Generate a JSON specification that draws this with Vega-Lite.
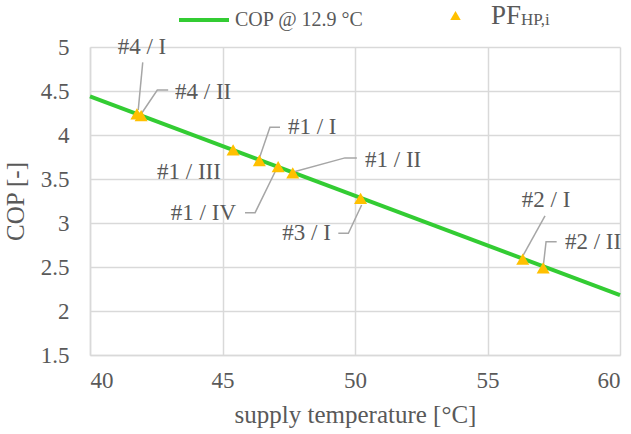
{
  "$schema": "https://vega.github.io/schema/vega-lite/v6.json",
  "width": 530,
  "height": 308,
  "autosize": "none",
  "padding": {"left": 90, "top": 47, "right": 11, "bottom": 79},
  "background": "white",
  "config": {
    "view": {"stroke": null},
    "font": "Liberation Serif",
    "axis": {
      "labelFont": "Liberation Serif",
      "titleFont": "Liberation Serif",
      "labelColor": "#595959",
      "titleColor": "#595959",
      "labelFontSize": 23,
      "titleFontSize": 25,
      "titleFontWeight": "normal",
      "gridColor": "#d9d9d9",
      "gridWidth": 1.5,
      "domainColor": "#d9d9d9",
      "domainWidth": 1.5,
      "ticks": false
    },
    "legend": {
      "labelFont": "Liberation Serif",
      "titleFont": "Liberation Serif",
      "labelColor": "#595959",
      "titleColor": "#595959",
      "padding": 0
    }
  },
  "datasets": {
    "cop": [
      {"temp": 40, "cop": 4.44, "series": "COP @ 12.9 °C"},
      {"temp": 60, "cop": 2.18, "series": "COP @ 12.9 °C"}
    ],
    "pf": [
      {"temp": 41.77, "pf": 4.24, "label": "#4 / I", "series": "PF"},
      {"temp": 41.93, "pf": 4.22, "label": "#4 / II", "series": "PF"},
      {"temp": 45.40, "pf": 3.83, "label": "#1 / III", "series": "PF"},
      {"temp": 46.39, "pf": 3.71, "label": "#1 / I", "series": "PF"},
      {"temp": 47.10, "pf": 3.64, "label": "#1 / IV", "series": "PF"},
      {"temp": 47.65, "pf": 3.57, "label": "#1 / II", "series": "PF"},
      {"temp": 50.21, "pf": 3.28, "label": "#3 / I", "series": "PF"},
      {"temp": 56.33, "pf": 2.59, "label": "#2 / I", "series": "PF"},
      {"temp": 57.10, "pf": 2.49, "label": "#2 / II", "series": "PF"}
    ],
    "labels": [
      {"temp": 41.96, "val": 5.0, "label": "#4 / I", "anchor": "center"},
      {"temp": 43.21, "val": 4.49, "label": "#4 / II", "anchor": "left"},
      {"temp": 47.47, "val": 4.09, "label": "#1 / I", "anchor": "left"},
      {"temp": 44.94, "val": 3.58, "label": "#1 / III", "anchor": "right"},
      {"temp": 45.51, "val": 3.11, "label": "#1 / IV", "anchor": "right"},
      {"temp": 50.38, "val": 3.72, "label": "#1 / II", "anchor": "left"},
      {"temp": 49.09, "val": 2.886, "label": "#3 / I", "anchor": "right"},
      {"temp": 57.21, "val": 3.26, "label": "#2 / I", "anchor": "center"},
      {"temp": 57.92, "val": 2.78, "label": "#2 / II", "anchor": "left"}
    ],
    "leaders": [
      {"id": "#4 / I", "seq": 1, "temp": 41.99, "val": 4.826},
      {"id": "#4 / I", "seq": 2, "temp": 41.82, "val": 4.284},
      {"id": "#4 / II", "seq": 1, "temp": 42.95, "val": 4.511},
      {"id": "#4 / II", "seq": 2, "temp": 42.54, "val": 4.511},
      {"id": "#4 / II", "seq": 3, "temp": 41.95, "val": 4.247},
      {"id": "#1 / I", "seq": 1, "temp": 47.17, "val": 4.087},
      {"id": "#1 / I", "seq": 2, "temp": 46.79, "val": 4.087},
      {"id": "#1 / I", "seq": 3, "temp": 46.39, "val": 3.735},
      {"id": "#1 / IV", "seq": 1, "temp": 45.85, "val": 3.117},
      {"id": "#1 / IV", "seq": 2, "temp": 46.23, "val": 3.117},
      {"id": "#1 / IV", "seq": 3, "temp": 47.05, "val": 3.622},
      {"id": "#1 / II", "seq": 1, "temp": 50.07, "val": 3.74},
      {"id": "#1 / II", "seq": 2, "temp": 49.62, "val": 3.74},
      {"id": "#1 / II", "seq": 3, "temp": 47.67, "val": 3.58},
      {"id": "#3 / I", "seq": 1, "temp": 49.37, "val": 2.883},
      {"id": "#3 / I", "seq": 2, "temp": 49.75, "val": 2.883},
      {"id": "#3 / I", "seq": 3, "temp": 50.25, "val": 3.205},
      {"id": "#2 / I", "seq": 1, "temp": 57.17, "val": 3.08},
      {"id": "#2 / I", "seq": 2, "temp": 56.35, "val": 2.636},
      {"id": "#2 / II", "seq": 1, "temp": 57.61, "val": 2.787},
      {"id": "#2 / II", "seq": 2, "temp": 57.21, "val": 2.787},
      {"id": "#2 / II", "seq": 3, "temp": 57.11, "val": 2.523}
    ]
  },
  "layer": [
    {
      "data": {"name": "cop"},
      "mark": {"type": "line", "strokeWidth": 4},
      "encoding": {
        "x": {
          "field": "temp", "type": "quantitative",
          "scale": {"domain": [40, 60], "nice": false},
          "axis": {"values": [40, 45, 50, 55, 60], "title": "supply temperature [°C]", "labelFont": "Liberation Serif", "titleFont": "Liberation Serif", "labelPadding": 14, "titlePadding": 10}
        },
        "y": {
          "field": "cop", "type": "quantitative",
          "scale": {"domain": [1.5, 5], "nice": false, "zero": false},
          "axis": {"values": [1.5, 2, 2.5, 3, 3.5, 4, 4.5, 5], "format": "~g", "title": "COP [-]", "labelFont": "Liberation Serif", "titleFont": "Liberation Serif", "labelPadding": 21, "titlePadding": 12}
        },
        "stroke": {
          "field": "series", "type": "nominal",
          "scale": {"range": ["#33cc33"]},
          "legend": {
            "title": null,
            "orient": "none",
            "legendX": 87,
            "legendY": -54,
            "symbolType": "stroke",
            "symbolSize": 2500,
            "symbolStrokeWidth": 4,
            "labelFontSize": 20,
            "labelOffset": 4
          }
        }
      }
    },
    {
      "data": {"name": "leaders"},
      "mark": {"type": "line", "stroke": "#a6a6a6", "strokeWidth": 1.5},
      "encoding": {
        "x": {"field": "temp", "type": "quantitative"},
        "y": {"field": "val", "type": "quantitative"},
        "detail": {"field": "id"},
        "order": {"field": "seq"}
      }
    },
    {
      "data": {"name": "pf"},
      "mark": {"type": "point", "shape": "triangle-up", "filled": true, "size": 170, "opacity": 1},
      "encoding": {
        "x": {"field": "temp", "type": "quantitative"},
        "y": {"field": "pf", "type": "quantitative"},
        "fill": {
          "field": "series", "type": "nominal",
          "scale": {"range": ["#ffc000"]},
          "legend": {
            "title": "HP,i",
            "titleOrient": "right",
            "titleFontSize": 17,
            "titleFontWeight": "normal",
            "titlePadding": 0,
            "titleAnchor": "end",
            "orient": "none",
            "legendX": 352,
            "legendY": -45,
            "symbolType": "triangle-up",
            "symbolSize": 110,
            "labelFontSize": 27,
            "labelOffset": 22
          }
        }
      }
    },
    {
      "data": {"name": "labels"},
      "transform": [{"filter": "datum.anchor === 'left'"}],
      "mark": {"type": "text", "align": "left", "baseline": "middle", "fontSize": 23, "color": "#595959", "font": "Liberation Serif"},
      "encoding": {
        "x": {"field": "temp", "type": "quantitative"},
        "y": {"field": "val", "type": "quantitative"},
        "text": {"field": "label"}
      }
    },
    {
      "data": {"name": "labels"},
      "transform": [{"filter": "datum.anchor === 'right'"}],
      "mark": {"type": "text", "align": "right", "baseline": "middle", "fontSize": 23, "color": "#595959", "font": "Liberation Serif"},
      "encoding": {
        "x": {"field": "temp", "type": "quantitative"},
        "y": {"field": "val", "type": "quantitative"},
        "text": {"field": "label"}
      }
    },
    {
      "data": {"name": "labels"},
      "transform": [{"filter": "datum.anchor === 'center'"}],
      "mark": {"type": "text", "align": "center", "baseline": "middle", "fontSize": 23, "color": "#595959", "font": "Liberation Serif"},
      "encoding": {
        "x": {"field": "temp", "type": "quantitative"},
        "y": {"field": "val", "type": "quantitative"},
        "text": {"field": "label"}
      }
    }
  ],
  "resolve": {"legend": {"stroke": "independent", "fill": "independent"}}
}
